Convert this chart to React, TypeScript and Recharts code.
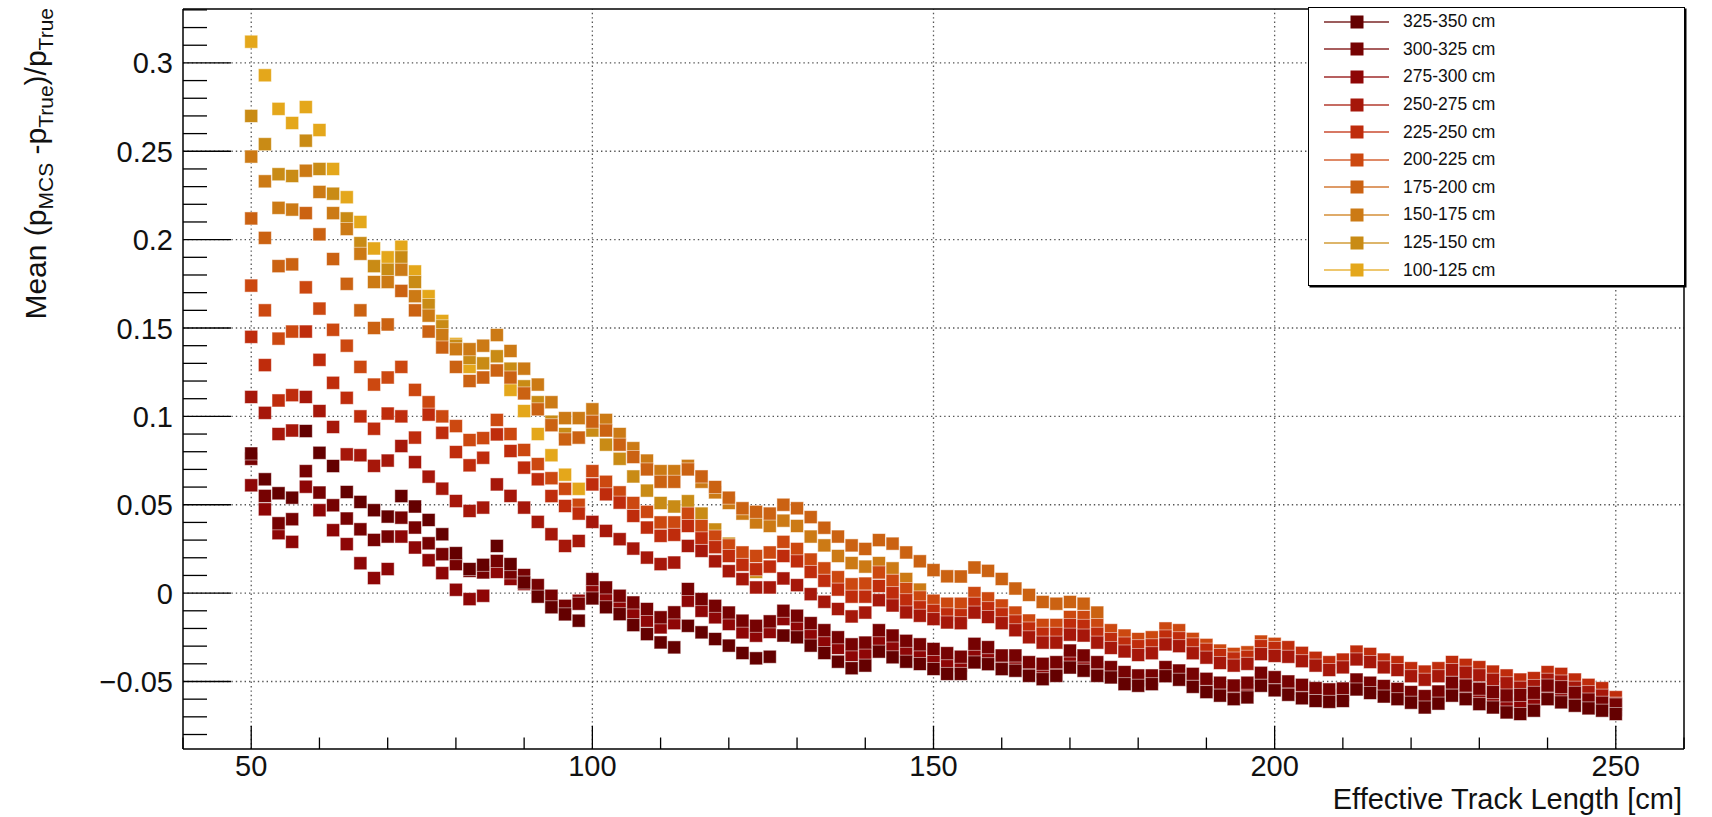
import { ScatterChart, Scatter, XAxis, YAxis, ReferenceLine, Legend } from 'recharts'

const FONT = "'Liberation Sans', Arial, Helvetica, sans-serif"

// effective track length points [cm]
const LENGTHS = [
  50, 52, 54, 56, 58, 60, 62, 64, 66, 68,
  70, 72, 74, 76, 78, 80, 82, 84, 86, 88,
  90, 92, 94, 96, 98, 100, 102, 104, 106, 108,
  110, 112, 114, 116, 118, 120, 122, 124, 126, 128,
  130, 132, 134, 136, 138, 140, 142, 144, 146, 148,
  150, 152, 154, 156, 158, 160, 162, 164, 166, 168,
  170, 172, 174, 176, 178, 180, 182, 184, 186, 188,
  190, 192, 194, 196, 198, 200, 202, 204, 206, 208,
  210, 212, 214, 216, 218, 220, 222, 224, 226, 228,
  230, 232, 234, 236, 238, 240, 242, 244, 246, 248,
  250,
]

// mean (p_MCS - p_True) / p_True, one list per true-length bin
const BIN_100_125 = [
  0.312, 0.293, 0.274, 0.266, 0.275, 0.262, 0.240, 0.224, 0.210, 0.195,
  0.190, 0.196, 0.182, 0.168, 0.154, 0.141, 0.128, 0.122, 0.126, 0.115,
  0.103, 0.090, 0.078, 0.067, 0.059,
]
const BIN_125_150 = [
  0.270, 0.254, 0.237, 0.236, 0.256, 0.240, 0.226, 0.212, 0.198, 0.185,
  0.183, 0.190, 0.176, 0.163, 0.151, 0.140, 0.133, 0.130, 0.134, 0.127,
  0.117, 0.108, 0.097, 0.090, 0.088, 0.092, 0.084, 0.076, 0.066, 0.058,
  0.051, 0.049, 0.052, 0.045, 0.036, 0.028, 0.019, 0.012,
]
const BIN_150_175 = [
  0.247, 0.233, 0.218, 0.217, 0.239, 0.227, 0.215, 0.206, 0.192, 0.176,
  0.176, 0.183, 0.168, 0.157, 0.146, 0.138, 0.138, 0.140, 0.146, 0.137,
  0.127, 0.118, 0.108, 0.099, 0.099, 0.104, 0.098, 0.090, 0.082, 0.075,
  0.069, 0.069, 0.072, 0.063, 0.057, 0.051, 0.045, 0.040, 0.038, 0.041,
  0.038, 0.032, 0.027, 0.021, 0.017, 0.015, 0.017, 0.014, 0.008, 0.002,
]
const BIN_175_200 = [
  0.212, 0.201, 0.185, 0.186, 0.215, 0.203, 0.189, 0.175, 0.160, 0.150,
  0.152, 0.171, 0.160, 0.148, 0.139, 0.128, 0.120, 0.122, 0.126, 0.122,
  0.113, 0.104, 0.095, 0.087, 0.088, 0.097, 0.092, 0.084, 0.077, 0.070,
  0.063, 0.063, 0.070, 0.066, 0.060, 0.054, 0.048, 0.046, 0.045, 0.050,
  0.048, 0.043, 0.037, 0.032, 0.027, 0.025, 0.030, 0.028, 0.023, 0.018,
  0.013, 0.0095, 0.0094, 0.0145, 0.0126, 0.008, 0.0026, -0.001, -0.005, -0.006,
  -0.005, -0.006, -0.011,
]
const BIN_200_225 = [
  0.174, 0.160, 0.144, 0.148, 0.173, 0.161, 0.149, 0.140, 0.128, 0.118,
  0.122, 0.128, 0.115, 0.108, 0.100, 0.0945, 0.0866, 0.0877, 0.098, 0.090,
  0.081, 0.073, 0.065, 0.059, 0.050, 0.069, 0.063, 0.057, 0.051, 0.046,
  0.040, 0.040, 0.045, 0.038, 0.032, 0.027, 0.023, 0.021, 0.023, 0.029,
  0.025, 0.019, 0.014, 0.009, 0.005, 0.0054, 0.0117, 0.007, 0.0023, -0.0024,
  -0.0043, -0.006, -0.006, 0.000, -0.003, -0.007, -0.011, -0.0155, -0.018, -0.018,
  -0.0135, -0.0135, -0.018, -0.021, -0.024, -0.026, -0.025, -0.020, -0.021, -0.0259,
  -0.0293, -0.0325, -0.0344, -0.0335, -0.0274, -0.0287,
]
const BIN_225_250 = [
  0.145, 0.129, 0.109, 0.112, 0.148, 0.132, 0.119, 0.1105, 0.100, 0.093,
  0.1016, 0.100, 0.088, 0.101, 0.0907, 0.0798, 0.0723, 0.0766, 0.0898, 0.0804,
  0.071, 0.0644, 0.0549, 0.0493, 0.045, 0.0615, 0.0559, 0.0512, 0.0437, 0.0371,
  0.0324, 0.033, 0.038, 0.031, 0.026, 0.021, 0.016, 0.0135, 0.015, 0.021,
  0.018, 0.012, 0.007, 0.002, -0.002, -0.002, 0.004, 0.000, -0.004, -0.008,
  -0.010, -0.012, -0.0125, -0.006, -0.0085, -0.012, -0.016, -0.020, -0.023, -0.023,
  -0.018, -0.0185, -0.023, -0.026, -0.0285, -0.030, -0.0295, -0.0245, -0.0255, -0.029,
  -0.032, -0.035, -0.037, -0.036, -0.030, -0.031, -0.0306, -0.0338, -0.0366, -0.0391,
  -0.0376, -0.0331, -0.0344, -0.0376, -0.0391, -0.0425, -0.0444, -0.0425, -0.039, -0.0406,
  -0.0419, -0.0444, -0.0466, -0.0489, -0.0481, -0.0447, -0.0457, -0.0489, -0.0519, -0.0538,
  -0.0589,
]
const BIN_250_275 = [
  0.111, 0.102, 0.090, 0.092, 0.111, 0.103, 0.094, 0.0785, 0.078, 0.072,
  0.075, 0.0832, 0.0741, 0.0659, 0.0591, 0.0521, 0.0465, 0.0484, 0.0615, 0.055,
  0.0484, 0.0403, 0.0333, 0.0267, 0.0295, 0.0403, 0.0352, 0.0305, 0.0252, 0.0201,
  0.0164, 0.0173, 0.0267, 0.0239, 0.018, 0.0124, 0.0079, 0.0032, 0.0032, 0.0083,
  0.0045, -0.0006, -0.0049, -0.009, -0.0132, -0.011, -0.004, -0.007, -0.0109, -0.0128,
  -0.0147, -0.0166, -0.017, -0.011, -0.0135, -0.017, -0.021, -0.025, -0.028, -0.028,
  -0.0235, -0.024, -0.028, -0.031, -0.033, -0.035, -0.034, -0.029, -0.030, -0.034,
  -0.0365, -0.0395, -0.041, -0.040, -0.0345, -0.0355, -0.036, -0.0385, -0.041, -0.0435,
  -0.042, -0.0375, -0.039, -0.042, -0.0435, -0.047, -0.049, -0.047, -0.0435, -0.045,
  -0.0465, -0.049, -0.051, -0.0535, -0.0525, -0.049, -0.050, -0.0535, -0.056, -0.058,
  -0.0625,
]
const BIN_275_300 = [
  0.061, 0.0474, 0.0339, 0.029, 0.0602, 0.0469, 0.0356, 0.0277, 0.0169, 0.0085,
  0.0136, 0.032, 0.0258, 0.0186, 0.0113, 0.0019, -0.0034, -0.0015, 0.012, 0.008,
  0.0051, -0.0015, -0.0072, -0.0119, -0.0043, 0.0013, -0.0034, -0.0081, -0.011, -0.0156,
  -0.0194, -0.017, -0.0043, -0.010, -0.0137, -0.0175, -0.0222, -0.0241, -0.022, -0.0147,
  -0.0194, -0.0235, -0.0275, -0.031, -0.035, -0.034, -0.027, -0.030, -0.033, -0.035,
  -0.0372, -0.040, -0.041, -0.034, -0.0355, -0.039, -0.0395, -0.043, -0.0445, -0.043,
  -0.037, -0.0395, -0.043, -0.045, -0.048, -0.0495, -0.049, -0.0445, -0.0465, -0.0495,
  -0.052, -0.0545, -0.056, -0.055, -0.049, -0.0515, -0.054, -0.0555, -0.0575, -0.058,
  -0.0575, -0.052, -0.054, -0.0555, -0.057, -0.059, -0.0615, -0.059, -0.0545, -0.056,
  -0.0585, -0.060, -0.0625, -0.063, -0.0615, -0.056, -0.0575, -0.060, -0.063, -0.0645,
  -0.066,
]
const BIN_300_325 = [
  0.076, 0.055, 0.0395, 0.0418, 0.069, 0.0569, 0.0497, 0.0422, 0.0361, 0.0301,
  0.032, 0.0427, 0.0371, 0.0282, 0.022, 0.0164, 0.0126, 0.0117, 0.0182, 0.0117,
  0.0102, 0.0045, -0.0015, -0.0072, -0.006, 0.0079, 0.0032, -0.0015, -0.0053, -0.009,
  -0.0137, -0.0109, 0.0023, -0.0034, -0.0072, -0.011, -0.0156, -0.0185, -0.016, -0.010,
  -0.0128, -0.017, -0.021, -0.025, -0.029, -0.028, -0.021, -0.024, -0.027, -0.029,
  -0.0316, -0.034, -0.036, -0.0287, -0.0306, -0.0353, -0.0353, -0.0391, -0.040, -0.0391,
  -0.0325, -0.0353, -0.0391, -0.0419, -0.0447, -0.0466, -0.0466, -0.0419, -0.0438, -0.0457,
  -0.0485, -0.0507, -0.0523, -0.0507, -0.0451, -0.0476, -0.050, -0.0519, -0.0538, -0.0545,
  -0.054, -0.0489, -0.0507, -0.0526, -0.0542, -0.056, -0.0583, -0.0557, -0.0507, -0.0523,
  -0.0541, -0.056, -0.0579, -0.0576, -0.0564, -0.0523, -0.0532, -0.0564, -0.0602, -0.062,
  -0.063,
]
const BIN_325_350 = [
  0.079, 0.0644, 0.0565, 0.054, 0.0917, 0.0794, 0.0719, 0.0572, 0.0516, 0.0469,
  0.0433, 0.0549, 0.049, 0.0414, 0.0333, 0.0226, 0.0136, 0.016, 0.0267, 0.0164,
  0.006, -0.002, -0.008, -0.012, -0.0156, -0.003, -0.008, -0.0119, -0.0181, -0.0232,
  -0.0279, -0.0307, -0.0185, -0.0222, -0.026, -0.0297, -0.0339, -0.0369, -0.036, -0.024,
  -0.025, -0.0297, -0.0339, -0.0388, -0.0425, -0.041, -0.0331, -0.0363, -0.0388, -0.0401,
  -0.0429, -0.0457, -0.0457, -0.0392, -0.0402, -0.043, -0.0439, -0.0468, -0.0487, -0.0468,
  -0.0421, -0.0439, -0.0468, -0.0477, -0.0515, -0.0524, -0.0515, -0.047, -0.049, -0.053,
  -0.056, -0.058, -0.060, -0.059, -0.0524, -0.055, -0.0575, -0.0595, -0.061, -0.0615,
  -0.061, -0.0545, -0.0565, -0.0585, -0.060, -0.062, -0.0647, -0.0625, -0.058, -0.060,
  -0.0628, -0.0647, -0.0675, -0.0684, -0.0665, -0.060, -0.0618, -0.0637, -0.0652, -0.0665,
  -0.0684,
]

// drawn in this order, listed in reverse in the legend
const SERIES = [
  { label: '100-125 cm', color: '#e4a71b', values: BIN_100_125 },
  { label: '125-150 cm', color: '#c98b15', values: BIN_125_150 },
  { label: '150-175 cm', color: '#cc7a15', values: BIN_150_175 },
  { label: '175-200 cm', color: '#cb6212', values: BIN_175_200 },
  { label: '200-225 cm', color: '#cc4810', values: BIN_200_225 },
  { label: '225-250 cm', color: '#bf2c0c', values: BIN_225_250 },
  { label: '250-275 cm', color: '#a6170a', values: BIN_250_275 },
  { label: '275-300 cm', color: '#8e0606', values: BIN_275_300 },
  { label: '300-325 cm', color: '#760202', values: BIN_300_325 },
  { label: '325-350 cm', color: '#640000', values: BIN_325_350 },
]

const X_DOMAIN = [40, 260]
const Y_DOMAIN = [-0.0882, 0.3305]
const X_MAJOR = [50, 100, 150, 200, 250]
const Y_MAJOR = [-0.05, 0, 0.05, 0.1, 0.15, 0.2, 0.25, 0.3]
const X_TICKS = Array.from({ length: 23 }, (_, i) => 40 + i * 10)
const Y_TICKS = Array.from({ length: 42 }, (_, i) => (i - 8) / 100)

const isMajor = (v: number, step: number) => Math.abs(v / step - Math.round(v / step)) < 1e-6

function fmtY(v: number) {
  const s = String(Number(v.toFixed(3)))
  return s.startsWith('-') ? '\u2212' + s.slice(1) : s
}

function XTick(props: any) {
  const { x, y, payload } = props
  const v = payload.value
  const major = isMajor(v, 50)
  const axisY = y - 8
  return (
    <g>
      <line x1={x} x2={x} y1={axisY} y2={axisY - (major ? 23 : 11.5)} stroke="#000" strokeWidth={1.3} />
      {major && (
        <text x={x} y={axisY + 27} textAnchor="middle" fontSize={29} fontFamily={FONT} fill="#111">
          {v}
        </text>
      )}
    </g>
  )
}

function YTick(props: any) {
  const { x, y, payload } = props
  const v = payload.value
  const major = isMajor(v, 0.05)
  const axisX = x + 10
  return (
    <g>
      <line x1={axisX} x2={axisX + (major ? 48 : 24)} y1={y} y2={y} stroke="#000" strokeWidth={1.3} />
      {major && (
        <text x={x} y={y + 10.5} textAnchor="end" fontSize={29} fontFamily={FONT} fill="#111">
          {fmtY(v)}
        </text>
      )}
    </g>
  )
}

function Square(props: any) {
  const { cx, cy, fill } = props
  if (cx == null || cy == null) return null
  return (
    <rect
      x={cx - 6.5}
      y={cy - 6.5}
      width={13}
      height={13}
      fill={fill}
      stroke="#ffffff"
      strokeOpacity={0.55}
      strokeWidth={0.9}
    />
  )
}

function YTitle(props: any) {
  const vb = props.viewBox || { x: 123, y: 9, width: 60 }
  const x = vb.x + vb.width - 137
  const y = vb.y - 1
  return (
    <text
      x={x}
      y={y}
      transform={`rotate(-90 ${x} ${y})`}
      textAnchor="end"
      fontSize={30}
      fontFamily={FONT}
      fill="#111"
    >
      Mean (p
      <tspan fontSize={21} dy={7}>MCS</tspan>
      <tspan dy={-7}> -p</tspan>
      <tspan fontSize={21} dy={7}>True</tspan>
      <tspan dy={-7}>)/p</tspan>
      <tspan fontSize={21} dy={7}>True</tspan>
    </text>
  )
}

function XTitle(props: any) {
  const vb = props.viewBox || { x: 183, y: 749, width: 1501 }
  return (
    <text
      x={vb.x + vb.width - 2}
      y={vb.y + 60}
      textAnchor="end"
      fontSize={29}
      fontFamily={FONT}
      fill="#111"
    >
      Effective Track Length [cm]
    </text>
  )
}

function LegendBox() {
  const rows = [...SERIES].reverse()
  return (
    <div
      style={{
        width: '100%',
        height: '100%',
        boxSizing: 'border-box',
        border: '1.3px solid #000',
        boxShadow: '1.5px 1.5px 0 #000',
        background: '#fff',
        fontFamily: FONT,
      }}
    >
      {rows.map((s) => (
        <div key={s.label} style={{ height: 27.6, display: 'flex', alignItems: 'center' }}>
          <svg width={80} height={20} style={{ flex: 'none' }}>
            <line x1={15} x2={80} y1={10} y2={10} stroke={s.color} strokeWidth={1.6} strokeOpacity={0.85} />
            <rect x={41.5} y={3.5} width={13} height={13} fill={s.color} />
          </svg>
          <span style={{ marginLeft: 14, fontSize: 17.5, color: '#111', whiteSpace: 'nowrap' }}>{s.label}</span>
        </div>
      ))}
    </div>
  )
}

export default function App() {
  const grid = { stroke: '#555', strokeWidth: 1.3, strokeDasharray: '1.4 3' }
  const frame = { stroke: '#000', strokeWidth: 1.5 }
  return (
    <div style={{ position: 'absolute', left: 0, top: 0, width: 1712, height: 817, background: '#fff' }}>
      <ScatterChart width={1712} height={817} margin={{ top: 9, right: 28, bottom: 28, left: 123 }}>
        <XAxis
          type="number"
          dataKey="x"
          domain={X_DOMAIN}
          ticks={X_TICKS}
          interval={0}
          allowDataOverflow
          axisLine={false}
          tickLine={false}
          tickSize={0}
          tickMargin={8}
          height={40}
          tick={(p: any) => <XTick {...p} />}
          label={{ content: (p: any) => <XTitle {...p} /> }}
        />
        <YAxis
          type="number"
          dataKey="y"
          domain={Y_DOMAIN}
          ticks={Y_TICKS}
          interval={0}
          allowDataOverflow
          axisLine={false}
          tickLine={false}
          tickSize={0}
          tickMargin={10}
          width={60}
          tick={(p: any) => <YTick {...p} />}
          label={{ content: (p: any) => <YTitle {...p} /> }}
        />
        {SERIES.map((s) => (
          <Scatter
            key={s.label}
            name={s.label}
            data={s.values.map((v, i) => ({ x: LENGTHS[i], y: v }))}
            fill={s.color}
            shape={(p: any) => <Square {...p} />}
            isAnimationActive={false}
          />
        ))}
        {Y_MAJOR.map((v) => (
          <ReferenceLine key={'gy' + v} y={v} {...grid} />
        ))}
        {X_MAJOR.map((v) => (
          <ReferenceLine key={'gx' + v} x={v} {...grid} />
        ))}
        <ReferenceLine x={X_DOMAIN[0]} {...frame} />
        <ReferenceLine x={X_DOMAIN[1]} {...frame} />
        <ReferenceLine y={Y_DOMAIN[0]} {...frame} />
        <ReferenceLine y={Y_DOMAIN[1]} {...frame} />
        <Legend
          layout="horizontal"
          verticalAlign="middle"
          align="center"
          wrapperStyle={{ left: 1308, top: 7, width: 377, height: 279 }}
          content={() => <LegendBox />}
        />
      </ScatterChart>
    </div>
  )
}
